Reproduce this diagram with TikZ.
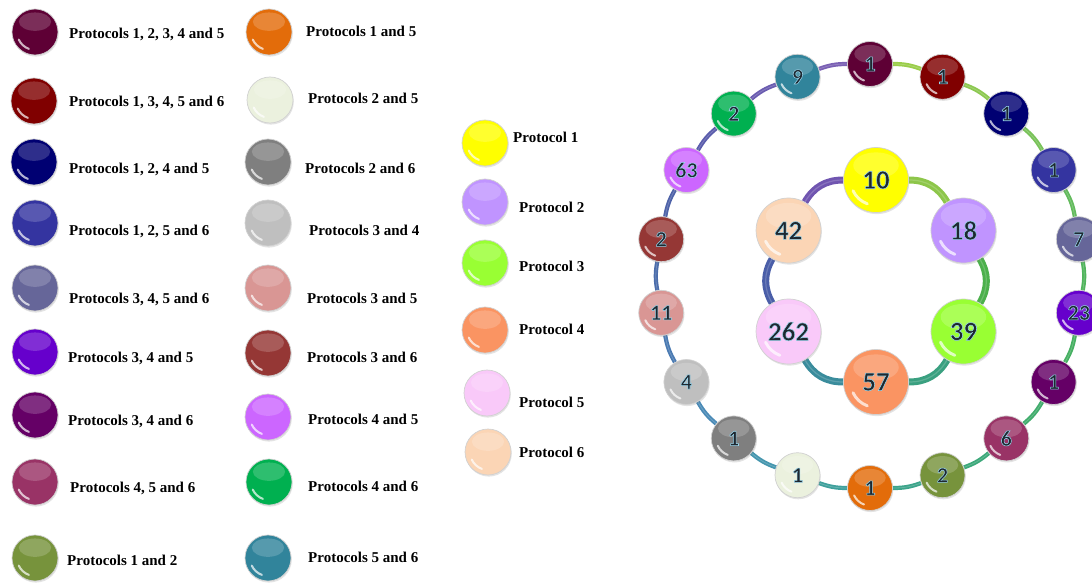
\documentclass[tikz,border=0pt]{standalone}
\usepackage{fontspec}
\setmainfont{Liberation Serif}
\newfontfamily\numfont{Carlito}
\usetikzlibrary{shadows,calc,backgrounds}
\definecolor{c12345}{HTML}{5E0035}
\definecolor{c13456}{HTML}{800000}
\definecolor{c1245}{HTML}{000072}
\definecolor{c1256}{HTML}{3434A0}
\definecolor{c3456}{HTML}{666699}
\definecolor{c345}{HTML}{6600CC}
\definecolor{c346}{HTML}{650066}
\definecolor{c456}{HTML}{993366}
\definecolor{c12}{HTML}{77933C}
\definecolor{c15}{HTML}{E36C0A}
\definecolor{c25}{HTML}{EBF1DE}
\definecolor{c26}{HTML}{7F7F7F}
\definecolor{c34}{HTML}{BFBFBF}
\definecolor{c35}{HTML}{D99694}
\definecolor{c36}{HTML}{953735}
\definecolor{c45}{HTML}{CC66FF}
\definecolor{c46}{HTML}{00B050}
\definecolor{c56}{HTML}{31849B}
\definecolor{p1}{HTML}{FFFF00}
\definecolor{p2}{HTML}{C094FF}
\definecolor{p3}{HTML}{99FF33}
\definecolor{p4}{HTML}{FA9462}
\definecolor{p5}{HTML}{F9C9F9}
\definecolor{p6}{HTML}{FBD5B5}
\definecolor{numcol}{HTML}{1E2830}
\newcommand\olnum[1]{\special{pdf:literal direct q 2 Tr 0.55 w 0.6 0.84 0.93 RG}#1\special{pdf:literal direct Q}}
\tikzset{
  ball/.style 2 args={circle, inner sep=0pt, minimum size=2*#2, fill=#1,
    draw=white!82!black, line width=0.7pt,
    drop shadow={opacity=0.22, shadow xshift=0.8pt, shadow yshift=-1.6pt},
    path picture={
      \fill[white, opacity=0.18] ($(path picture bounding box.center)+(0,0.45*#2)$) ellipse ({0.7*#2} and {0.4*#2});
      \draw[white, opacity=0.7, line width={0.09*#2}, line cap=round]
        ($(path picture bounding box.center)+(205:{0.78*#2})$) arc (205:250:{0.78*#2});
    }},
  leg/.style={font=\bfseries\fontsize{15}{18}\selectfont, anchor=base west, inner sep=0pt},
  onum/.style={font=\numfont\bfseries\fontsize{22}{24}\selectfont, text=numcol},
  inum/.style={font=\numfont\bfseries\fontsize{27}{29}\selectfont, text=numcol},
  ring/.style={line width=4.2pt, draw=#1},
  iring/.style={line width=7pt, draw=#1},
}
\begin{document}
\begin{tikzpicture}[x=1pt,y=1pt]
\useasboundingbox (0,0) rectangle (1092,582);
% ---- legend column 1
\node[ball={c12345}{23}] (l1) at (35,550) {};
\node[leg] (t1) at (69,543) {Protocols 1, 2, 3, 4 and 5};
\node[ball={c13456}{23}] (l2) at (34,481) {};
\node[leg] (t2) at (69,475) {Protocols 1, 3, 4, 5 and 6};
\node[ball={c1245}{23}] (l3) at (34,420) {};
\node[leg] (t3) at (69,408) {Protocols 1, 2, 4 and 5};
\node[ball={c1256}{23}] (l4) at (35,359) {};
\node[leg] (t4) at (69,347) {Protocols 1, 2, 5 and 6};
\node[ball={c3456}{23}] (l5) at (35,294) {};
\node[leg] (t5) at (69,279) {Protocols 3, 4, 5 and 6};
\node[ball={c345}{23}] (l6) at (35,230) {};
\node[leg] (t6) at (68,220) {Protocols 3, 4 and 5};
\node[ball={c346}{23}] (l7) at (35,167) {};
\node[leg] (t7) at (68,157) {Protocols 3, 4 and 6};
\node[ball={c456}{23}] (l8) at (35,100) {};
\node[leg] (t8) at (70,90) {Protocols 4, 5 and 6};
\node[ball={c12}{23}] (l9) at (35,24) {};
\node[leg] (t9) at (67,17) {Protocols 1 and 2};
% ---- legend column 2
\node[ball={c15}{23}] (m1) at (269,550) {};
\node[leg] (u1) at (306,545) {Protocols 1 and 5};
\node[ball={c25}{23}] (m2) at (270,482) {};
\node[leg] (u2) at (308,478) {Protocols 2 and 5};
\node[ball={c26}{23}] (m3) at (268,420) {};
\node[leg] (u3) at (305,408) {Protocols 2 and 6};
\node[ball={c34}{23}] (m4) at (268,359) {};
\node[leg] (u4) at (309,347) {Protocols 3 and 4};
\node[ball={c35}{23}] (m5) at (268,294) {};
\node[leg] (u5) at (307,279) {Protocols 3 and 5};
\node[ball={c36}{23}] (m6) at (268,229) {};
\node[leg] (u6) at (307,220) {Protocols 3 and 6};
\node[ball={c45}{23}] (m7) at (268,165) {};
\node[leg] (u7) at (308,158) {Protocols 4 and 5};
\node[ball={c46}{23}] (m8) at (269,100) {};
\node[leg] (u8) at (308,91) {Protocols 4 and 6};
\node[ball={c56}{23}] (m9) at (268,24) {};
\node[leg] (u9) at (308,20) {Protocols 5 and 6};
% ---- legend column 3
\node[ball={p1}{23}] (n1) at (485,439) {};
\node[leg] (v1) at (513,439) {Protocol 1};
\node[ball={p2}{23}] (n2) at (485,380) {};
\node[leg] (v2) at (519,370) {Protocol 2};
\node[ball={p3}{23}] (n3) at (485,319) {};
\node[leg] (v3) at (519,311) {Protocol 3};
\node[ball={p4}{23}] (n4) at (485,252) {};
\node[leg] (v4) at (519,248) {Protocol 4};
\node[ball={p5}{23}] (n5) at (487,189) {};
\node[leg] (v5) at (519,175) {Protocol 5};
\node[ball={p6}{23}] (n6) at (488,130) {};
\node[leg] (v6) at (519,125) {Protocol 6};
% ---- outer ring
\coordinate (oc) at (870,306);
\foreach \k/\col/\val in {0/c12345/1, 1/c13456/1, 2/c1245/1, 3/c1256/1, 4/c3456/7, 5/c345/23,
  6/c346/1, 7/c456/6, 8/c12/2, 9/c15/1, 10/c25/1, 11/c26/1, 12/c34/4, 13/c35/11, 14/c36/2,
  15/c45/63, 16/c46/2, 17/c56/9}{
  \node[ball={\col}{22.5}, onum] (o\k) at ($(oc)+({90-20*\k}:212)$) {\olnum{\val}};
}
% ---- inner ring
\coordinate (ic) at (876,301);
\foreach \k/\col/\val in {0/p1/10, 1/p2/18, 2/p3/39, 3/p4/57, 4/p5/262, 5/p6/42}{
  \node[ball={\col}{32.5}, inum] (i\k) at ($(ic)+({90-60*\k}:101)$) {\olnum{\val}};
}
\begin{scope}[on background layer]
\foreach \k/\n/\lc in {0/1/9ACD4A, 1/2/8CC850, 2/3/78C258, 3/4/62BA5C, 4/5/50B45C, 5/6/46B062,
  6/7/40AC6C, 7/8/3CA87A, 8/9/3CA48A, 9/10/3FA09C, 10/11/4596AE, 11/12/4A8AB6, 12/13/4A7AB2,
  13/14/4A6CAA, 14/15/4E62A8, 15/16/5A5CAC, 16/17/6A5CB0, 17/0/7A60B4}{
  \definecolor{segc}{HTML}{\lc}
  \draw[ring=segc] (o\k) to[bend left=10] (o\n);
  \draw[white, opacity=0.2, line width=0.8pt] (o\k) to[bend left=10] (o\n);
}
\foreach \k/\n/\lc in {0/1/8DC64A, 1/2/4CB04C, 2/3/3AA080, 3/4/3A8C9C, 4/5/4A5EA8, 5/0/7055B0}{
  \definecolor{segc}{HTML}{\lc}
  \draw[iring=segc] (i\k) to[bend left=30] (i\n);
  \draw[white, opacity=0.18, line width=1.2pt] (i\k) to[bend left=30] (i\n);
}
\end{scope}
\end{tikzpicture}
\end{document}
